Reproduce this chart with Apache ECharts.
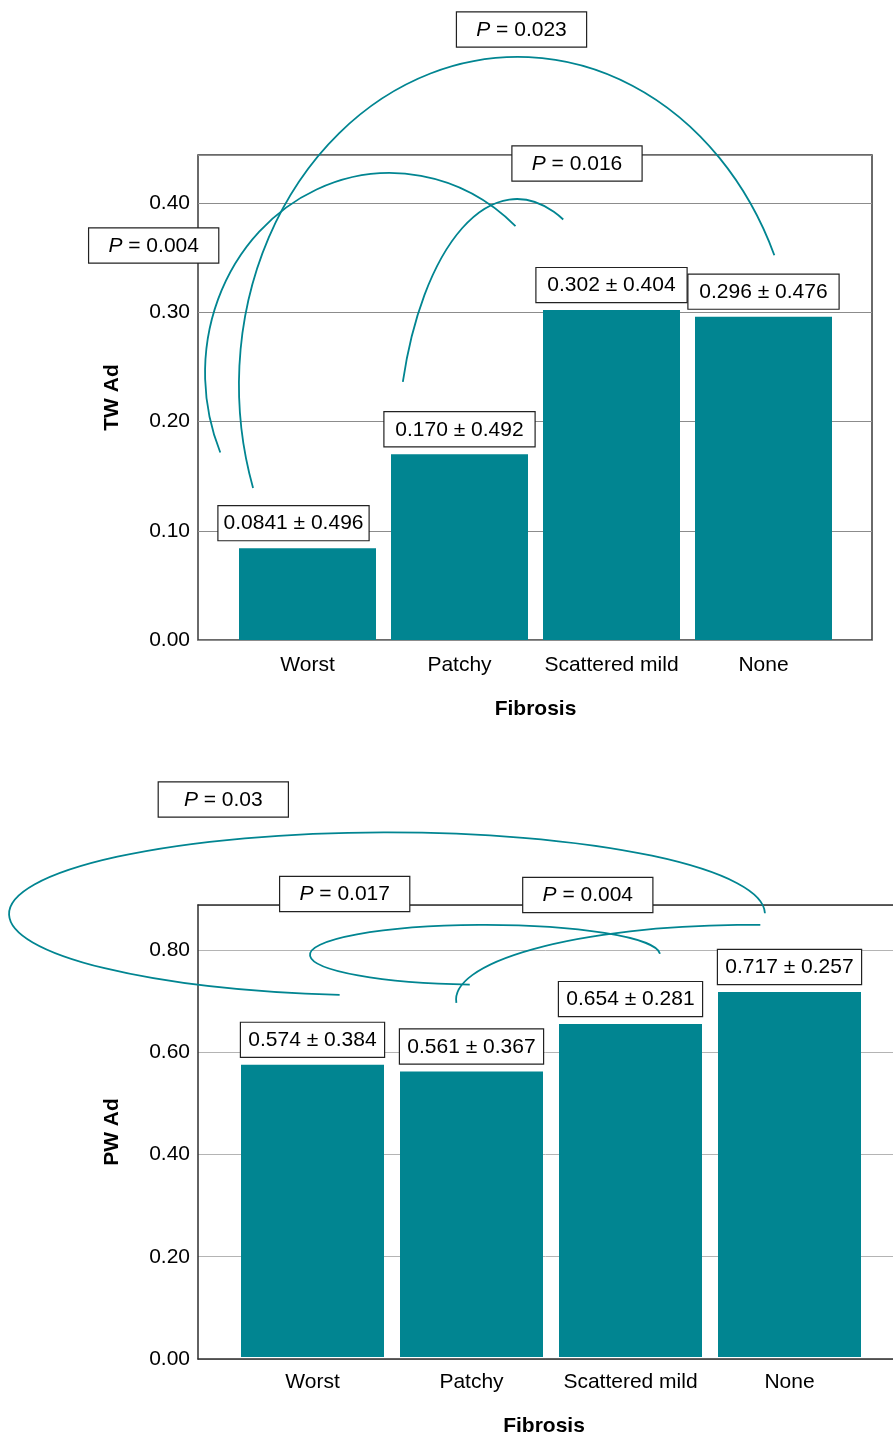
<!DOCTYPE html>
<html>
<head>
<meta charset="utf-8">
<script src="https://cdn.jsdelivr.net/npm/echarts@6/dist/echarts.min.js"></script>
<style>
  html, body { margin: 0; padding: 0; background: #fff; }
  #chart { width: 893px; height: 1438px; }
</style>
</head>
<body>
<div id="chart"></div>
<script>
// ---- data ----
const categories = ['Worst', 'Patchy', 'Scattered mild', 'None'];

const twMean = [0.0841, 0.170, 0.302, 0.296];
const twSD   = [0.496, 0.492, 0.404, 0.476];

const pwMean = [0.574, 0.561, 0.654, 0.717];
const pwSD   = [0.384, 0.367, 0.281, 0.257];

const twP = ['0.023', '0.016', '0.004'];
const pwP = ['0.03', '0.017', '0.004'];

// ---- comparison brackets, in axis units ----
// [centre category index, centre value, x radius (bands), y radius (value), start angle, end angle]
const twBrackets = [
  [1.385, 0.2335, 1.836, 0.3003, 198.3, 23.3],
  [0.543, 0.2444, 1.217, 0.1831, 203.4, 47.3],
  [1.378, 0.1620, 0.789, 0.2417, 162.1, 67.3]
];
const pwBrackets = [
  [0.4686, 0.8704, 2.377, 0.1604, 0.5, 262.8],
  [1.085, 0.7902, 1.101, 0.0587, 2.0, 265.0],
  [2.752, 0.7022, 1.849, 0.1467, 182.5, 88.0]
];
// anchor of each P-value box: [category index, value]
const twPAt = [[1.408, 0.5589], [1.773, 0.4362], [-1.012, 0.3612]];
const pwPAt = [[-0.561, 1.0954], [0.2025, 0.9095], [1.7314, 0.9076]];

// ---- styling ----
const FONT = "'Liberation Sans', Arial, Helvetica, sans-serif";
const TEAL = '#018591';
const FRAME = '#2e2e2e';
const fmt = v => v.toPrecision(3);

function arcItem(params, api) {
  const c = api.coord([api.value(0), api.value(1)]);
  const s = api.size([api.value(2), api.value(3)]);
  const rx = s[0], ry = s[1];
  const a0 = api.value(4) * Math.PI / 180;
  const a1 = api.value(5) * Math.PI / 180;
  const x0 = c[0] + rx * Math.cos(a0), y0 = c[1] - ry * Math.sin(a0);
  const x1 = c[0] + rx * Math.cos(a1), y1 = c[1] - ry * Math.sin(a1);
  const span = a1 - a0;
  const large = Math.abs(span) > Math.PI ? 1 : 0;
  const sweep = span > 0 ? 0 : 1;
  return {
    type: 'path',
    shape: { pathData: 'M' + x0 + ' ' + y0 + ' A' + rx + ' ' + ry + ' 0 ' + large + ' ' + sweep + ' ' + x1 + ' ' + y1 },
    style: { fill: 'none', stroke: TEAL, lineWidth: 1.8 }
  };
}

function pBoxItem(labels) {
  return function (params, api) {
    const c = api.coord([api.value(0), api.value(1)]);
    return {
      type: 'text',
      x: c[0],
      y: c[1],
      style: {
        text: '{i|P} = ' + labels[params.dataIndex],
        rich: { i: { fontStyle: 'italic', fontSize: 21, fontFamily: FONT, fill: '#000', lineHeight: 23 } },
        fontSize: 21,
        fontFamily: FONT,
        fill: '#000',
        lineHeight: 23,
        align: 'center',
        verticalAlign: 'middle',
        width: 89,
        padding: [6, 20, 5, 20],
        backgroundColor: '#fff',
        borderColor: '#222',
        borderWidth: 1.2
      }
    };
  };
}

function valueLabel(means, sds, boxWidth) {
  return {
    show: true,
    position: 'top',
    distance: 8,
    formatter: p => fmt(means[p.dataIndex]) + ' \u00b1 ' + fmt(sds[p.dataIndex]),
    fontSize: 21,
    fontFamily: FONT,
    color: '#000',
    lineHeight: 23,
    width: boxWidth,
    align: 'center',
    backgroundColor: '#fff',
    borderColor: '#222',
    borderWidth: 1.2,
    padding: [6, 5, 5, 5]
  };
}

const catAxis = (gridIndex, namePad) => ({
  gridIndex,
  type: 'category',
  data: categories,
  axisLine: { show: false },
  axisTick: { show: false },
  axisLabel: { fontSize: 21, color: '#000', margin: 15, interval: 0, fontFamily: FONT },
  name: 'Fibrosis',
  nameLocation: 'middle',
  nameGap: 59,
  nameTextStyle: { fontSize: 21, fontWeight: 'bold', color: '#000', fontFamily: FONT, padding: namePad }
});

const valAxis = (gridIndex, max, interval, name, gridColor, showLine) => ({
  gridIndex,
  type: 'value',
  min: 0,
  max,
  interval,
  axisLine: { show: showLine, lineStyle: { color: FRAME, width: 1.5 } },
  axisTick: { show: false },
  axisLabel: { fontSize: 21, color: '#000', margin: 8, showMaxLabel: false, fontFamily: FONT,
               padding: [4, 0, 0, 0], formatter: v => v.toFixed(2) },
  splitLine: { lineStyle: { color: gridColor, width: 1 } },
  name,
  nameLocation: 'middle',
  nameGap: 75,
  nameTextStyle: { fontSize: 21, fontWeight: 'bold', color: '#000', fontFamily: FONT }
});

// bare line along one edge of the lower panel
const edgeAxis = (gridIndex, position) => ({
  gridIndex, type: 'value', min: 0, max: 1, position,
  axisLine: { show: true, onZero: false, lineStyle: { color: FRAME, width: 1.5 } },
  axisTick: { show: false }, axisLabel: { show: false }, splitLine: { show: false }
});

const option = {
  animation: false,
  backgroundColor: '#fff',
  textStyle: { fontFamily: FONT, color: '#000' },
  grid: [
    { left: 198, top: 155, width: 674, height: 485, show: true, borderColor: '#3a3a3a', borderWidth: 1.5 },
    { left: 231.5, top: 155, width: 608, height: 485 },
    { left: 198, top: 905, right: 0, height: 454 },
    { left: 233, top: 905, width: 636, height: 454 }
  ],
  xAxis: [
    { gridIndex: 0, type: 'value', min: 0, max: 1, show: false },
    catAxis(1, [0, 0, 0, 0]),
    { gridIndex: 1, type: 'value', min: -0.5, max: 3.5, show: false },
    edgeAxis(2, 'bottom'),
    catAxis(3, [0, 14, 0, 0]),
    { gridIndex: 3, type: 'value', min: -0.5, max: 3.5, show: false },
    edgeAxis(2, 'top')
  ],
  yAxis: [
    valAxis(0, 0.444, 0.1, 'TW Ad', '#8c8c8c', false),
    { gridIndex: 1, type: 'value', min: 0, max: 0.444, show: false },
    valAxis(2, 0.888, 0.2, 'PW Ad', '#b4b4b4', true),
    { gridIndex: 3, type: 'value', min: 0, max: 0.888, show: false }
  ],
  series: [
    {
      type: 'bar', xAxisIndex: 1, yAxisIndex: 1, barWidth: 137,
      itemStyle: { color: TEAL },
      data: twMean.map((v, i) => i === 0 ? { value: v, label: { offset: [-14, 0] } } : v),
      label: valueLabel(twMean, twSD, 140)
    },
    {
      type: 'custom', xAxisIndex: 2, yAxisIndex: 1, clip: false, silent: true, z: 5,
      data: twBrackets, renderItem: arcItem
    },
    {
      type: 'custom', xAxisIndex: 2, yAxisIndex: 1, clip: false, silent: true, z: 6,
      data: twPAt, renderItem: pBoxItem(twP)
    },
    {
      type: 'bar', xAxisIndex: 4, yAxisIndex: 3, barWidth: 143,
      itemStyle: { color: TEAL },
      data: pwMean,
      label: valueLabel(pwMean, pwSD, 133)
    },
    {
      type: 'custom', xAxisIndex: 5, yAxisIndex: 3, clip: false, silent: true, z: 5,
      data: pwBrackets, renderItem: arcItem
    },
    {
      type: 'custom', xAxisIndex: 5, yAxisIndex: 3, clip: false, silent: true, z: 6,
      data: pwPAt, renderItem: pBoxItem(pwP)
    }
  ]
};

const chart = echarts.init(document.getElementById('chart'), null, { renderer: 'canvas' });
chart.setOption(option);
</script>
</body>
</html>
